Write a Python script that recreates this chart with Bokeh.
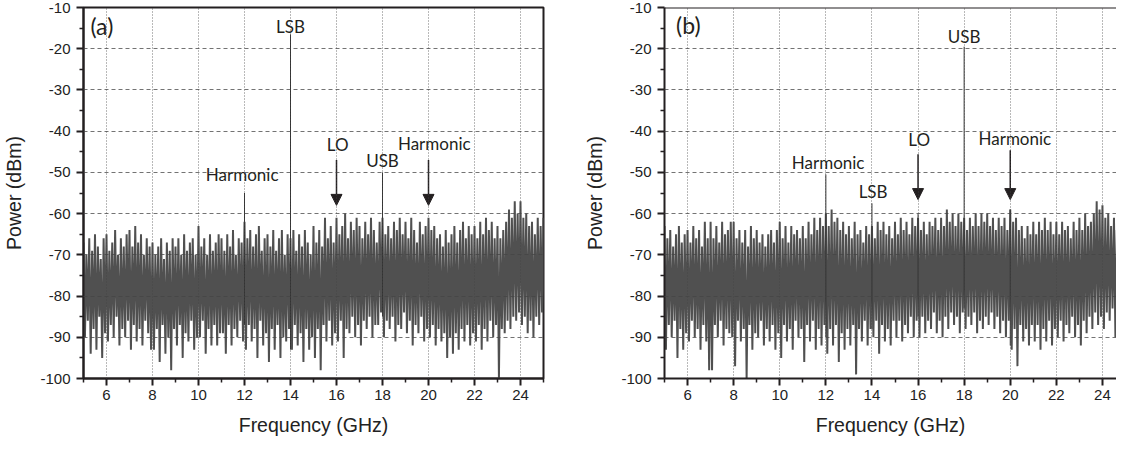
from bokeh.plotting import figure
from bokeh.layouts import row
from bokeh.models import Range1d, FixedTicker, Arrow, NormalHead, Span
from bokeh.embed import file_html
from bokeh.resources import INLINE
from bokeh.core.properties import value

# ---------------- data ----------------
# noise sampling grid (GHz), 0.125 GHz bins from 5 to 25
freq = [5.0 + 0.125 * i for i in range(161)]
# spike maxima / minima of the noise floor in each bin (dBm), 8 per GHz
hi_a = [-67, -70, -66, -69, -65, -68, -71, -66,
        -65, -69, -67, -64, -70, -66, -68, -65,
        -64, -68, -63, -67, -65, -70, -66, -68,
        -67, -70, -68, -66, -71, -67, -69, -66,
        -68, -66, -70, -65, -69, -67, -66, -70,
        -63, -68, -66, -70, -65, -69, -67, -65,
        -66, -69, -65, -68, -64, -70, -66, -67,
        -62, -66, -64, -68, -65, -63, -69, -66,
        -65, -68, -64, -69, -66, -64, -70, -65,
        -66, -64, -69, -65, -68, -64, -67, -70,
        -63, -67, -64, -68, -61, -66, -63, -67,
        -61, -65, -63, -60, -66, -62, -64, -61,
        -63, -66, -62, -65, -61, -64, -67, -62,
        -61, -65, -63, -66, -62, -64, -61, -65,
        -62, -66, -61, -64, -67, -62, -65, -63,
        -61, -64, -63, -66, -65, -68, -64, -67,
        -65, -63, -67, -64, -62, -66, -63, -65,
        -63, -66, -62, -65, -61, -64, -62, -66,
        -63, -66, -64, -62, -59, -61, -57, -60,
        -57, -61, -60, -63, -62, -65, -61, -63,
        -61]
lo_a = [-90, -86, -94, -88, -93, -85, -95, -89,
        -91, -87, -90, -85, -92, -88, -90, -86,
        -93, -87, -91, -88, -92, -86, -89, -93,
        -93, -88, -96, -87, -94, -90, -98, -88,
        -92, -87, -95, -89, -91, -86, -93, -90,
        -90, -86, -94, -88, -92, -87, -92, -89,
        -89, -94, -87, -92, -88, -90, -86, -91,
        -93, -87, -91, -88, -95, -86, -92, -89,
        -96, -88, -93, -87, -95, -90, -91, -88,
        -93, -87, -92, -89, -96, -88, -93, -90,
        -95, -88, -98, -87, -91, -86, -92, -89,
        -91, -86, -95, -88, -89, -85, -90, -87,
        -92, -86, -88, -85, -90, -87, -87, -84,
        -90, -86, -88, -85, -91, -87, -88, -84,
        -89, -86, -92, -87, -89, -85, -91, -88,
        -90, -87, -92, -88, -91, -89, -95, -90,
        -94, -89, -93, -88, -91, -87, -92, -89,
        -91, -87, -93, -88, -91, -86, -90, -87,
        -100, -88, -89, -86, -88, -85, -86, -84,
        -87, -85, -89, -86, -90, -85, -87, -84,
        -88]
hi_b = [-63, -66, -64, -68, -65, -63, -67, -65,
        -64, -67, -63, -66, -64, -68, -62, -66,
        -62, -66, -63, -67, -62, -65, -64, -62,
        -62, -66, -64, -67, -64, -68, -63, -66,
        -64, -67, -65, -68, -65, -64, -67, -64,
        -62, -66, -63, -67, -63, -65, -64, -66,
        -63, -66, -62, -65, -61, -64, -61, -63,
        -60, -63, -59, -62, -61, -64, -62, -65,
        -63, -66, -62, -65, -64, -67, -63, -65,
        -63, -66, -62, -64, -62, -65, -63, -66,
        -62, -65, -61, -64, -62, -65, -61, -63,
        -61, -64, -62, -65, -62, -63, -61, -64,
        -61, -63, -59, -62, -60, -63, -60, -62,
        -61, -64, -61, -63, -60, -63, -60, -62,
        -60, -63, -61, -64, -61, -63, -61, -64,
        -59, -62, -61, -64, -63, -66, -63, -65,
        -62, -65, -62, -64, -61, -64, -62, -65,
        -62, -65, -62, -64, -63, -66, -62, -64,
        -61, -64, -60, -63, -62, -60, -57, -59,
        -58, -61, -60, -63, -61, -64, -61, -63,
        -62]
lo_b = [-93, -87, -90, -86, -95, -88, -93, -89,
        -91, -86, -90, -88, -93, -87, -91, -98,
        -98, -87, -90, -86, -92, -88, -89, -90,
        -97, -86, -91, -88, -100, -87, -93, -89,
        -90, -86, -92, -88, -91, -87, -93, -89,
        -95, -87, -91, -88, -93, -86, -90, -88,
        -96, -87, -91, -86, -93, -88, -92, -87,
        -94, -88, -92, -87, -96, -89, -93, -88,
        -92, -87, -99, -88, -91, -86, -92, -88,
        -90, -86, -94, -87, -91, -88, -92, -86,
        -90, -86, -91, -87, -89, -85, -90, -86,
        -90, -85, -89, -86, -88, -84, -89, -86,
        -90, -85, -88, -84, -87, -85, -89, -84,
        -88, -85, -87, -84, -89, -86, -88, -85,
        -87, -84, -88, -85, -89, -86, -90, -86,
        -93, -88, -97, -87, -91, -88, -92, -87,
        -91, -87, -93, -88, -91, -86, -92, -88,
        -90, -86, -91, -87, -89, -85, -90, -87,
        -92, -86, -89, -85, -88, -84, -87, -85,
        -88, -84, -86, -83, -90, -85, -88, -84,
        -89]

# discrete tones
tone_f_a = [12, 14, 18]
tone_top_a = [-55, -16.5, -50]
tone_bot_a = [-87, -93, -85]
tone_f_b = [12, 14, 16, 18, 20]
tone_top_b = [-50.5, -57.5, -60, -19.5, -59]
tone_bot_b = [-90, -88, -85, -83, -92]

# annotations
lab_a = ["LSB", "Harmonic", "LO", "USB", "Harmonic"]
lab_x_a = [14.0, 11.9, 16.05, 18.0, 20.25]
lab_y_a = [-14.7, -50.4, -43.3, -47.0, -43.0]
lab_b = ["USB", "Harmonic", "LSB", "LO", "Harmonic"]
lab_x_b = [18.0, 12.1, 14.05, 16.05, 20.2]
lab_y_b = [-17.1, -47.6, -54.6, -42.0, -41.8]
arrow_x = [16, 20]
arrow_from_a = [-47.0, -47.0]
arrow_to_a = [-58.0, -58.0]
arrow_from_b = [-45.6, -44.6]
arrow_to_b = [-56.6, -56.6]
panel_tag = ["(a)", "(b)"]
tag_x = [5.3, 5.5]
tag_y = [-14.4, -14.3]

x_major = [6, 8, 10, 12, 14, 16, 18, 20, 22, 24]
x_minor = [5, 7, 9, 11, 13, 15, 17, 19, 21, 23, 25]
y_major = [-100, -90, -80, -70, -60, -50, -40, -30, -20, -10]
y_minor = [-95, -85, -75, -65, -55, -45, -35, -25, -15]

NOISE = "#505050"
INK = "#231f20"


def zig(hi, lo):
    xs, ys = [], []
    for f, h, l in zip(freq, hi, lo):
        xs += [f, f + 0.0625]
        ys += [h, l]
    return xs, ys


def panel(width, bl, br, xend, hi, lo, tf, tt, tb, labs, lx, ly,
          afrom, ato, tag, tx, ty, outline):
    p = figure(width=width, height=440, output_backend="svg", toolbar_location=None,
               x_range=Range1d(5, xend), y_range=Range1d(-100, -10),
               min_border_left=bl, min_border_right=br, min_border_top=7,
               min_border_bottom=62)
    p.background_fill_color = "white"
    p.border_fill_color = "white"
    if outline:
        p.outline_line_color = INK
        p.outline_line_width = 2
    else:
        p.outline_line_color = None
        p.add_layout(Span(location=-10, dimension="width", line_color=INK, line_width=2))

    xs, ys = zig(hi, lo)
    p.line(xs, ys, line_color=NOISE, line_width=2.0)
    p.segment(x0=tf, y0=tb, x1=tf, y1=tt, line_color="#333333", line_width=1)

    for xx, a0, a1 in zip(arrow_x, afrom, ato):
        p.add_layout(Arrow(end=NormalHead(size=11, fill_color=INK, line_color=INK),
                           x_start=xx, y_start=a0, x_end=xx, y_end=a1,
                           line_color=INK, line_width=1.5))

    p.text(x=lx, y=ly, text=labs, text_font=value("Lato"), text_font_size="17px",
           text_align="center", text_baseline="middle", text_color=INK)
    p.text(x=[tx], y=[ty], text=[tag], text_font=value("Lato"), text_font_size="23px",
           text_align="left", text_baseline="middle", text_color=INK)

    p.xaxis.ticker = FixedTicker(ticks=x_major, minor_ticks=x_minor)
    p.yaxis.ticker = FixedTicker(ticks=y_major, minor_ticks=y_minor)
    p.yaxis.major_label_overrides = {v: "%d" % v for v in y_major}
    p.xgrid.ticker = FixedTicker(ticks=x_major)
    p.ygrid.ticker = FixedTicker(ticks=y_major[1:-1])
    p.xgrid.grid_line_color = "#444444"
    p.xgrid.grid_line_alpha = 0.75
    p.xgrid.grid_line_dash = "1 2"
    p.ygrid.grid_line_color = "#444444"
    p.ygrid.grid_line_alpha = 0.75
    p.ygrid.grid_line_dash = "4 3"
    p.xgrid.level = "overlay"
    p.ygrid.level = "overlay"

    for ax in (p.xaxis, p.yaxis):
        ax.axis_line_width = 2
        ax.axis_line_color = INK
        ax.major_tick_line_width = 2
        ax.major_tick_line_color = INK
        ax.minor_tick_line_width = 1.5
        ax.minor_tick_line_color = INK
        ax.major_tick_in = 0
        ax.major_tick_out = 7
        ax.minor_tick_in = 0
        ax.minor_tick_out = 4
        ax.major_label_text_font = "Liberation Sans"
        ax.major_label_text_font_size = "15px"
        ax.major_label_text_color = "#222222"
        ax.axis_label_text_font = "Liberation Sans"
        ax.axis_label_text_font_size = "19.5px"
        ax.axis_label_text_font_style = "normal"
        ax.axis_label_text_color = "#222222"
    p.xaxis.axis_label = "Frequency (GHz)"
    p.yaxis.axis_label = "Power (dBm)"
    p.xaxis.major_label_standoff = 4
    p.xaxis.axis_label_standoff = 11
    p.yaxis.major_label_standoff = 6
    p.yaxis.axis_label_standoff = 12
    return p


pa = panel(558, 82, 15, 25, hi_a, lo_a, tone_f_a, tone_top_a,
           tone_bot_a, lab_a, lab_x_a, lab_y_a, arrow_from_a, arrow_to_a,
           panel_tag[0], tag_x[0], tag_y[0], True)
pb = panel(558, 106, 0, 5 + 452 / 23.05, hi_b, lo_b, tone_f_b,
           tone_top_b, tone_bot_b, lab_b, lab_x_b, lab_y_b, arrow_from_b, arrow_to_b,
           panel_tag[1], tag_x[1], tag_y[1], False)

layout = row(pa, pb)
open("out.html", "w").write(file_html(layout, INLINE))
